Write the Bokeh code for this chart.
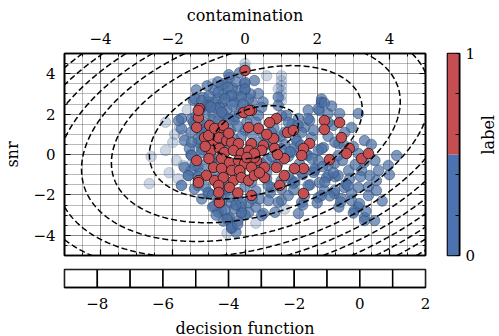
import math
import numpy as np
from bokeh.plotting import figure
from bokeh.layouts import row, column
from bokeh.models import FixedTicker, LinearAxis
from bokeh.embed import file_html
from bokeh.resources import INLINE

FONT = "'DejaVu Serif', serif"
FS_TICK = "15px"
FS_LABEL = "16px"

# ---------------- data ----------------
blue_x = [-1.43, -1.15, -0.84, -0.57, -0.43, -0.18, -0.65, -0.18, -0.01, 0.37, 0.26, -1.10, -0.90, -0.50, -0.30, -0.60, -0.35, -0.10, 0.20, 0.15, 0.50, 0.46, 0.37, 0.30, 0.05, -0.30, -0.60, -0.90, -1.20, -1.50, -1.30, -1.50, -1.30, -1.50, -1.00, -0.75, -0.25, 0.00, -0.45, 0.10,
          -1.20, -1.00, -0.80, -0.60, -0.40, -0.20, 0.00, 0.20, 0.40, 0.60, 0.80, 1.00, -0.30, -0.90, -0.50, 0.00, 0.30, 0.60, -1.10, -0.70, -0.30, 0.10, -1.10, -0.80, -0.10, 0.50, 0.70, -1.25, -0.20, 0.45,
          -0.73, -0.65, -0.43, -0.37, -0.10, -0.10, -1.01, -0.57, -0.37, -0.20, 0.10, 0.30, 0.51, 0.10, 0.40, 0.70, 0.73, -0.90, -1.20, -1.40, -1.10, -0.40, -0.60, -0.20, 0.00, 0.65, 1.01, 1.48, -0.25,
          2.12, 2.06, 2.30, 2.62, 3.14, 2.95, 3.31, 3.14, 3.23, 3.42, 2.87, 2.48, 2.03, 2.17, 1.84, 1.65, 1.48, 1.15, 1.79, 2.45, 2.76, 2.59, 2.03, 1.37, 1.20, 1.93, 2.26, 1.29, 2.48, 2.95, 3.14, 3.31, 2.06, 2.67, 3.03, 3.31, 3.59, 3.17, 3.14, 3.42, 3.64, 3.64, 2.95, 2.75, 2.48, 2.20, 2.03, 2.31, 1.90, 1.51, 3.97, 4.20, 3.70, 3.45, 1.34, 1.60, 1.80, 2.50, 2.70, 2.90, 3.00, 3.30, 1.70, 1.40, 1.10, 1.90, 2.30, 2.60, 3.80, 4.00, 3.50, 2.12, 1.75, 2.40, 1.30, 3.60,
          -1.76, -1.76, -1.68, -1.54, -1.68, -1.57, -1.76, -1.84,
          -0.65, -0.47, -0.37, -0.74, -0.56, -0.88, -1.02, -1.11, -1.39, -1.20, -1.48, -1.43, 0.00, 0.00, -0.10, 0.92, 0.92, 1.01, 2.12, 2.03, 2.30, 1.75, 1.47, 1.57, 1.20, 1.10, 0.73, 0.83, 0.55, 1.01, 1.29, 1.75, 2.12, 2.49, 2.58, 2.30, 1.93, 1.57, 1.20, 0.83, 0.46, 0.18, 0.64, 1.01, 1.38, 1.75, 2.21, 2.58, 2.12, 1.57, 1.20, 0.92, 0.83, 0.46, -0.10, -0.47, -0.37, -0.74, -0.65, -0.56, -1.02, -1.30, -1.57, -1.39, -1.48, -1.20, -1.30, -1.48, -1.11, -1.39,
          -1.00, -0.80, -0.60, -0.20, 0.20, -0.90, -0.30, 0.20, -1.30, 0.60, 0.90, 1.00, -0.95, -0.15, 0.35, -0.55, 0.75, 1.45, 2.75, 3.05, 1.60, 2.20,
          -1.35, -1.05, -0.75, -0.45, -0.15, -1.25, -0.95, -0.65, -0.35, -0.05, -1.35, -1.05, -0.75, -0.45, -0.15, -1.20, -0.90, -0.60, -0.30, -0.70, -0.40, -0.10, -0.85, -0.55, -0.25, -0.80, -0.50, -0.20, -0.95, -0.60,
          1.25, 1.55, 1.85, 2.15, 2.45, 2.80, 1.35, 1.65, 2.00, 2.35, 2.65, 3.00, 3.35, 2.85, 3.20]
blue_y = [2.67, 2.82, 3.17, 3.51, 3.81, 3.17, 2.52, 2.85, 3.51, 3.02, 3.66, 2.40, 2.05, 2.20, 2.60, 3.00, 3.30, 2.30, 2.60, 3.00, 2.60, 2.33, 1.93, 1.60, 1.60, 1.70, 1.80, 1.70, 1.50, 1.10, 0.60, 0.00, -0.60, -0.80, 2.60, 2.75, 3.60, 3.20, 2.90, 2.75,
          1.00, 0.00, -0.40, 0.40, 1.20, 0.30, 1.20, -0.20, 0.60, -0.30, 1.30, 0.90, -0.60, -1.00, -1.50, -1.60, -1.80, -1.20, -0.50, 2.30, 1.90, 2.00, 1.30, 0.90, 0.90, 1.00, 0.50, -0.95, -1.00, -0.45,
          -2.28, -2.77, -3.12, -3.51, -2.92, -2.60, -1.93, -1.93, -3.66, -2.20, -2.40, -2.60, -2.92, -2.87, -2.20, -1.90, -1.63, -2.60, -2.20, -1.70, -1.60, -2.40, -3.30, -3.30, -3.00, -2.28, -2.28, -2.92, -3.85,
          2.57, 2.18, 2.03, 2.03, 2.03, 1.34, 0.69, 0.05, -0.79, -1.60, -0.79, -0.45, -0.30, 0.35, 0.84, 1.34, 1.78, 1.93, 1.68, 1.44, 1.09, 0.54, 0.20, 0.35, -0.10, -0.79, -1.14, -1.29, -1.93, -2.28, -2.60, -3.12, -1.39, -2.18, -2.77, -3.27, -3.27, -2.43, -1.63, -2.03, -1.29, -1.78, -1.93, -1.63, -1.78, -1.78, -2.13, -1.04, -0.89, -0.45, -0.54, -0.05, -0.79, -1.04, -1.44, -1.00, -1.50, -1.10, -0.30, -1.20, 0.40, -0.40, 0.00, 0.80, 0.50, 1.20, 0.90, -2.60, -2.30, -1.00, 0.50, 2.75, 2.20, 2.40, 1.50, -0.30,
          1.78, 1.29, 0.69, 0.30, -0.64, -1.04, -1.53, 1.68,
          3.42, 3.33, 2.92, 3.08, 2.76, 2.59, 2.43, 2.09, 2.76, 2.67, 1.77, 1.60, 3.58, 3.25, 2.84, 2.84, 2.43, 1.93, 2.59, 2.26, 1.60, 1.77, 1.44, 1.10, 1.60, 1.10, 1.10, 0.78, 0.45, 0.28, 0.11, -0.05, 0.28, 0.61, -0.05, -0.54, -0.71, -0.88, -1.04, -0.54, -0.71, -1.37, -1.53, -1.70, -1.37, -1.53, -1.37, -1.04, -2.03, -2.36, -2.03, -2.36, -2.86, -3.02, -2.86, -3.18, -3.60, -2.86, -2.36, -1.70, -1.87, -1.53, -1.04, -0.54, -0.05, 0.28, 0.78, 0.61, 1.10, 1.44,
          2.90, 2.30, 2.00, 1.40, 1.00, -2.00, -2.70, -2.20, -1.10, -0.90, -0.50, -1.30, 0.55, -0.10, 0.15, 0.95, -0.10, 0.65, 0.45, -0.50, -2.50, 2.55,
          3.20, 3.40, 3.60, 3.95, 4.05, 2.20, 2.35, 2.10, 2.45, 2.50, 1.90, 1.55, 1.65, 1.75, 2.05, 0.10, -0.20, 0.65, 0.75, -1.90, -2.10, -2.40, -2.55, -2.75, -2.50, -3.00, -3.20, -3.45, -0.20, -0.95,
          0.15, 0.45, -0.20, -0.60, -0.90, -1.45, -1.75, -2.05, -2.40, -2.05, -2.35, -2.90, -2.80, -1.55, -1.10]

pale_x = [1.01, 1.01, 1.01, 1.01, 1.01, 1.01, 0.00, 0.00, -2.65, -2.60, -2.20, -2.10, -2.00, -2.20, -1.90, -1.85, -1.60, -1.95, -0.90, 0.60, -0.50, 0.30, 1.10, -1.45, -1.30, -1.76, -1.81, -1.71, -1.76, -1.71, 0.92]
pale_y = [3.90, 3.65, 3.40, 3.15, 2.90, 2.65, 4.50, 4.30, -1.44, -0.10, 1.60, -0.90, 0.60, 0.20, -0.30, -1.20, 2.20, 1.00, 3.50, 3.90, -3.90, -3.40, -2.70, -0.40, 0.25, 1.77, 1.35, 0.94, -1.53, -0.54, 3.25]

red_x = [0.87, 0.68, 1.18, 1.34, 2.20, 2.62, 2.20, 2.67, 1.79, 1.62, 1.57, 1.62, 1.37, 2.34, 2.89, 2.81, 3.23, 3.42, 0.96, 1.62, 0.18, 0.54, 0.87, 1.09, 0.54, 0.32, 0.26, 0.18, 0.37, 0.18, 0.51, 0.46, 0.79, 0.82, 1.09,
         0.00, -1.26, -1.29, -0.98, -0.65, -0.04, 0.12, 0.10, -1.12, -0.87, -0.73, -0.51, -0.37, -0.18, -0.93, -0.71, -0.57, -0.32, -0.10, 0.10, 0.26, -0.65, -0.43, -0.18, -0.01, 0.18, -0.87, -1.34, -0.65, -0.37, -0.15, -1.07, -1.29, -0.84, -0.60, -0.32, -0.10, 0.10, 0.26, -0.73, -0.43, -0.71,
         -1.29, -1.34, -1.01, -0.84, -0.60, -1.29, -0.73, -0.45, 0.05, 0.40, -1.00, -0.20, 0.60, 0.90, -1.10]
red_y = [1.78, 1.58, 1.09, 1.19, 1.68, 1.58, 1.24, 0.84, 0.54, 0.30, -0.05, -0.69, -0.69, -0.25, 0.30, 0.05, -0.20, 0.05, -1.53, -1.93, -2.03, -1.14, -0.64, -1.04, -0.64, -0.30, -0.15, 0.54, 1.29, 2.18, 0.45, 0.20, 0.79, 0.30, -0.20,
         4.16, 2.28, 1.83, 1.44, 1.34, 2.08, 2.18, 1.34, 0.84, 0.69, 0.84, 0.69, 0.59, 0.54, 0.20, 0.30, 0.10, 0.20, 0.05, 0.20, 0.05, -0.20, -0.40, -0.30, -0.45, -0.64, -0.64, -0.30, -0.69, -0.79, -0.79, -1.04, -1.29, -1.29, -1.14, -1.29, -1.14, -1.29, -1.04, -1.53, -1.63, -2.38,
         2.18, 1.34, 0.94, 1.29, 1.44, -1.39, -1.88, 1.05, -0.15, -0.90, -0.20, -1.90, 1.00, 0.00, 0.40]

# decision-function model (quadratic envelope)
df_center = (0.3, 1.1)
df_quad = (0.1546, -0.0468, 0.1234)
df_peak = 1.19
df_levels = [-9, -8, -7, -6, -5, -4, -3, -2, -1, 0, 1, 2]

x_ticks = [-4, -2, 0, 2, 4]
y_ticks = [-4, -2, 0, 2, 4]
df_ticks = [-8, -6, -4, -2, 0, 2]
cbar_edges = [0, 0.5, 1]
cbar_ticks = [0, 1]
cbar_colors = ["#4c72b0", "#c44e52"]

BLUE = "#4a6fa5"
RED = "#c44e52"


def fmt(t):
    return str(t).replace("-", "\u2212")


def style_axis(ax, tick_in=6, minor_in=3):
    ax.major_tick_in = tick_in
    ax.major_tick_out = 0
    ax.minor_tick_in = minor_in
    ax.minor_tick_out = 0
    ax.axis_line_color = "black"
    ax.axis_line_width = 1.6
    ax.major_tick_line_width = 1.2
    ax.minor_tick_line_width = 0.9
    ax.major_label_text_font = FONT
    ax.major_label_text_font_size = FS_TICK
    ax.major_label_text_color = "black"
    ax.axis_label_text_font = FONT
    ax.axis_label_text_font_size = FS_LABEL
    ax.axis_label_text_font_style = "normal"
    ax.axis_label_text_color = "black"


minor = [v / 2 for v in range(-10, 11)]

# ---------------- main plot ----------------
p = figure(frame_width=361, frame_height=202, x_range=(-5, 5), y_range=(-5, 5),
           x_axis_location="above", toolbar_location=None, output_backend="svg",
           min_border_left=63, min_border_top=53, min_border_right=6, min_border_bottom=7)
p.outline_line_color = "black"
p.outline_line_width = 1.6

xt = FixedTicker(ticks=x_ticks, minor_ticks=minor)
yt = FixedTicker(ticks=y_ticks, minor_ticks=minor)
p.xaxis.ticker = xt
p.yaxis.ticker = yt
p.xaxis.axis_label = "contamination"
p.yaxis.axis_label = "snr"
p.xaxis.major_label_overrides = {t: fmt(t) for t in x_ticks}
p.yaxis.major_label_overrides = {t: fmt(t) for t in y_ticks}
for ax in p.xaxis:
    style_axis(ax)
    ax.major_label_standoff = 10
    ax.axis_label_standoff = 5
for ax in p.yaxis:
    style_axis(ax)
    ax.major_label_standoff = 9
    ax.axis_label_standoff = 8

bax = LinearAxis(ticker=FixedTicker(ticks=x_ticks, minor_ticks=minor))
style_axis(bax)
bax.major_label_overrides = {t: "" for t in x_ticks}
bax.major_label_standoff = 0
p.add_layout(bax, "below")
rax = LinearAxis(ticker=FixedTicker(ticks=y_ticks, minor_ticks=minor))
style_axis(rax)
rax.major_label_overrides = {t: "" for t in y_ticks}
rax.major_label_standoff = 0
p.add_layout(rax, "right")

for g, t in ((p.xgrid, xt), (p.ygrid, yt)):
    g.ticker = t
    g.grid_line_color = "black"
    g.grid_line_alpha = 0.3
    g.grid_line_width = 0.9
    g.minor_grid_line_color = "black"
    g.minor_grid_line_alpha = 0.3
    g.minor_grid_line_width = 0.9

p.scatter(pale_x, pale_y, size=10.5, fill_color=BLUE, fill_alpha=0.28,
          line_color="#2f4a6e", line_alpha=0.3, line_width=0.8)
p.scatter(blue_x, blue_y, size=10.5, fill_color=BLUE, fill_alpha=0.7,
          line_color="#2f4a6e", line_alpha=0.65, line_width=0.8)
p.scatter(red_x, red_y, size=10.5, fill_color=RED, fill_alpha=1.0,
          line_color="#2a1a1a", line_alpha=1.0, line_width=0.9)

gx = np.linspace(-5, 5, 241)
gy = np.linspace(-5, 5, 241)
GX, GY = np.meshgrid(gx, gy)
dx = GX - df_center[0]
dy = GY - df_center[1]
a, b, c = df_quad
Z = df_peak - (a * dx ** 2 + 2 * b * dx * dy + c * dy ** 2)
line_levels = [lv for lv in df_levels if Z.min() < lv < Z.max()]
p.contour(gx, gy, Z, line_levels, line_color="black", line_dash="6 3", line_width=1.5)

# ---------------- decision-function strip ----------------
s = figure(frame_width=361, frame_height=18, x_range=(df_levels[0], df_levels[-1]), y_range=(0, 1),
           toolbar_location=None, output_backend="svg", y_axis_location=None,
           min_border_left=63, min_border_top=7, min_border_right=6, min_border_bottom=49)
s.outline_line_color = "black"
s.outline_line_width = 1.6
s.xgrid.visible = False
s.ygrid.visible = False
s.quad(left=df_levels[:-1], right=df_levels[1:], bottom=0, top=1,
       fill_color="white", line_color="black", line_width=1.5)
s.xaxis.ticker = FixedTicker(ticks=df_ticks, minor_ticks=[])
s.xaxis.major_label_overrides = {t: fmt(t) for t in df_ticks}
s.xaxis.axis_label = "decision function"
for ax in s.xaxis:
    style_axis(ax, tick_in=0, minor_in=0)
    ax.major_label_standoff = 10
    ax.axis_label_standoff = 7

# ---------------- colour bar ----------------
cb = figure(frame_width=12, frame_height=202, x_range=(0, 1), y_range=(0, 1),
            toolbar_location=None, output_backend="svg", x_axis_location=None, y_axis_location="right",
            min_border_left=16, min_border_right=41, min_border_top=53, min_border_bottom=15)
cb.outline_line_color = "black"
cb.outline_line_width = 1.6
cb.xgrid.visible = False
cb.ygrid.visible = False
cb.quad(left=0, right=1, bottom=cbar_edges[:-1], top=cbar_edges[1:], fill_color=cbar_colors, line_color=None)
cb.yaxis.ticker = FixedTicker(ticks=cbar_ticks, minor_ticks=[0.2, 0.4, 0.6, 0.8])
cb.yaxis.axis_label = "label"
for ax in cb.yaxis:
    style_axis(ax, tick_in=4, minor_in=4)
    ax.major_label_standoff = 6
    ax.axis_label_standoff = 10
    if "axis_label_orientation" in ax.properties():
        ax.axis_label_orientation = math.pi / 2

layout = row(column(p, s), cb)
open("out.html", "w").write(file_html(layout, INLINE))
